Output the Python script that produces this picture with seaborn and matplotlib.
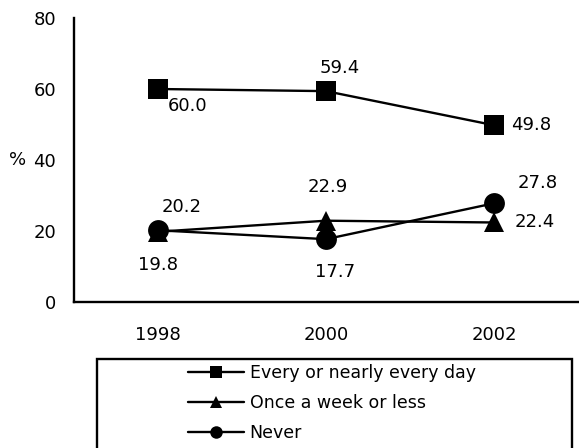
import matplotlib
matplotlib.use("Agg")
import matplotlib.pyplot as plt
import seaborn as sns
import pandas as pd
from matplotlib.patches import Rectangle
from matplotlib.lines import Line2D

years = [1998, 2000, 2002]
every_day = [60.0, 59.4, 49.8]
once_week = [19.8, 22.9, 22.4]
never = [20.2, 17.7, 27.8]
series_names = ["Every or nearly every day", "Once a week or less", "Never"]
y_ticks = [0, 20, 40, 60, 80]

sns.set_style("white")
plt.rcParams['font.family'] = ['DejaVu Sans']
plt.rcParams['text.color'] = 'black'
plt.rcParams['xtick.color'] = 'black'
plt.rcParams['ytick.color'] = 'black'

df = pd.DataFrame({
    "year": years * 3,
    "value": every_day + once_week + never,
    "series": [series_names[0]] * 3 + [series_names[1]] * 3 + [series_names[2]] * 3,
})

fig = plt.figure(figsize=(5.79, 4.48), dpi=100)
ax = fig.add_axes([74 / 579, 146 / 448, (578 - 74) / 579, (302 - 18) / 448])

markers = {series_names[0]: "s", series_names[1]: "^", series_names[2]: "o"}
sns.lineplot(data=df, x="year", y="value", hue="series", style="series",
             markers=markers, dashes=False,
             palette={n: "black" for n in series_names},
             markersize=15, linewidth=1.7, markeredgewidth=0,
             ax=ax, legend=False)

ax.set_xlim(1997, 2003)
ax.set_ylim(0, 80)
ax.set_xticks(years)
ax.set_xticklabels([str(y) for y in years], fontsize=13)
ax.set_yticks(y_ticks)
ax.set_yticklabels([str(t) for t in y_ticks], fontsize=13)
ax.tick_params(axis='y', length=0, pad=13)
ax.tick_params(axis='x', length=0, pad=17)
ax.set_xlabel("")
ax.set_ylabel("")
for s in ["top", "right"]:
    ax.spines[s].set_visible(False)
for s in ["left", "bottom"]:
    ax.spines[s].set_color("black")
    ax.spines[s].set_linewidth(1.7)

ax.text(-48 / 504, 40, "%", transform=ax.get_yaxis_transform(),
        fontsize=13, ha="right", va="center", color="black")

def lab(x, y, txt, dx, dy, ha="center"):
    ax.annotate(txt, (x, y), xytext=(dx, dy), textcoords="offset points",
                ha=ha, va="center", fontsize=13, color="black")

# Every or nearly every day
lab(years[0], every_day[0], f"{every_day[0]:.1f}", 7, -12, "left")
lab(years[1], every_day[1], f"{every_day[1]:.1f}", 10, 17)
lab(years[2], every_day[2], f"{every_day[2]:.1f}", 12, 0, "left")
# Once a week or less
lab(years[0], once_week[0], f"{once_week[0]:.1f}", 0, -24)
lab(years[1], once_week[1], f"{once_week[1]:.1f}", 1, 24)
lab(years[2], once_week[2], f"{once_week[2]:.1f}", 15, 0, "left")
# Never
lab(years[0], never[0], f"{never[0]:.1f}", 17, 17)
lab(years[1], never[1], f"{never[1]:.1f}", 6.5, -24)
lab(years[2], never[2], f"{never[2]:.1f}", 17, 14.5, "left")

# Legend box
rect = Rectangle((97 / 579, -0.05), (572 - 97) / 579, 0.05 + (448 - 359) / 448,
                 transform=fig.transFigure, fill=False, edgecolor="black",
                 linewidth=1.7, clip_on=False)
fig.patches.append(rect)

handles = [Line2D([0], [0], color="black", lw=1.7, marker=markers[n],
                  markersize=9, markeredgewidth=0) for n in series_names]
fig.legend(handles, series_names, loc="upper left",
           bbox_to_anchor=(188 / 579, (448 - 364) / 448), frameon=False,
           fontsize=12.5, handlelength=3.2, handletextpad=0.35,
           labelspacing=0.68, borderpad=0, borderaxespad=0)

fig.savefig("out.png", dpi=100)
